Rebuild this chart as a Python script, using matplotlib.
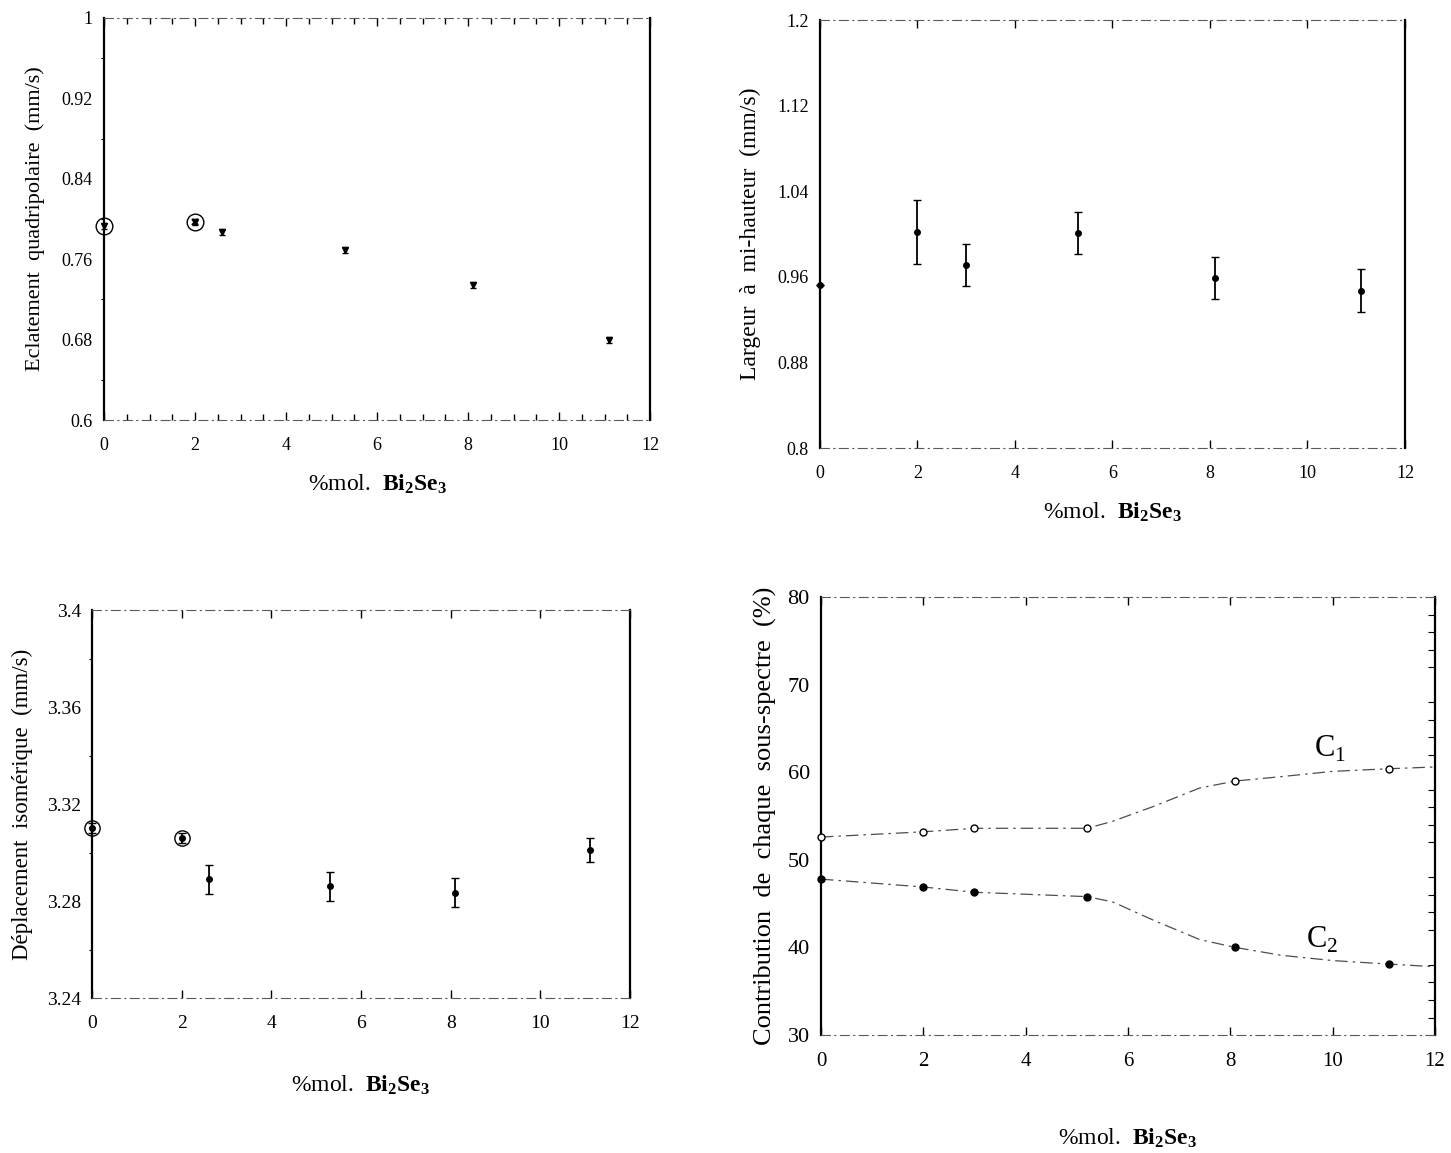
import matplotlib
matplotlib.use("Agg")
import matplotlib.pyplot as plt
from matplotlib.ticker import MultipleLocator, FixedLocator

plt.rcParams["font.family"] = ["Liberation Serif", "DejaVu Serif"]
plt.rcParams["mathtext.fontset"] = "custom"
plt.rcParams["mathtext.rm"] = "Liberation Serif"
plt.rcParams["mathtext.bf"] = "Liberation Serif:bold"

# ---- data ----
# quadrupole splitting (mm/s)
qs_x = [0, 2, 2.6, 5.3, 8.1, 11.1]
qs_y = [0.793, 0.797, 0.787, 0.769, 0.734, 0.680]
qs_err = [0.003, 0.003, 0.003, 0.003, 0.003, 0.003]
qs_circled = [0, 1]

# line width at half height (mm/s)
fw_x = [0, 2, 3, 5.3, 8.1, 11.1]
fw_y = [0.952, 1.002, 0.971, 1.001, 0.959, 0.947]
fw_err = [0.0, 0.030, 0.020, 0.020, 0.020, 0.020]

# isomer shift (mm/s)
is_x = [0, 2, 2.6, 5.3, 8.1, 11.1]
is_y = [3.310, 3.306, 3.289, 3.286, 3.2835, 3.301]
is_err = [0.002, 0.002, 0.006, 0.006, 0.006, 0.005]
is_circled = [0, 1]

# sub-spectrum contributions (%)
c_x = [0, 2, 3, 5.2, 8.1, 11.1]
c1_y = [52.6, 53.2, 53.6, 53.6, 59.0, 60.4]
c2_y = [47.8, 46.9, 46.3, 45.8, 40.0, 38.1]
# guide curves
curve_x = [0, 2, 3, 5.2, 5.7, 6.5, 7.4, 8.1, 9, 10, 11.1, 12]
c1_curve = [52.6, 53.2, 53.6, 53.6, 54.4, 56.1, 58.2, 59.0, 59.5, 60.1, 60.4, 60.6]
c2_curve = [47.8, 46.9, 46.3, 45.8, 45.2, 43.1, 40.9, 40.0, 39.1, 38.5, 38.1, 37.8]

XLABEL = r"%mol.  $\mathbf{Bi_2Se_3}$"

fig = plt.figure(figsize=(14.51, 11.53), dpi=100)


def style_axes(ax, xminor=None, tick_fs=13):
    ax.set_xlim(0, 12)
    ax.xaxis.set_major_locator(MultipleLocator(2))
    if xminor:
        ax.xaxis.set_minor_locator(MultipleLocator(xminor))
    for side in ("left", "right"):
        ax.spines[side].set_linewidth(1.6)
        ax.spines[side].set_color("black")
    for side in ("top", "bottom"):
        ax.spines[side].set_linewidth(0.8)
        ax.spines[side].set_color("0.35")
        ax.spines[side].set_linestyle((0, (8, 4, 1, 4)))
    ax.tick_params(axis="x", which="major", direction="in", top=True, bottom=True,
                   length=6, width=1.0, labelsize=tick_fs, pad=12)
    ax.tick_params(axis="x", which="minor", direction="in", top=True, bottom=True,
                   length=4, width=1.0)
    ax.tick_params(axis="y", which="major", length=0, labelsize=tick_fs, pad=8)
    ax.tick_params(axis="y", which="minor", direction="out", length=2, width=0.8)


# ---- top left ----
ax1 = fig.add_axes([0.0717, 0.6357, 0.3763, 0.3487])
style_axes(ax1, xminor=0.5)
ax1.set_ylim(0.6, 1.0)
ax1.yaxis.set_major_locator(FixedLocator([0.6, 0.68, 0.76, 0.84, 0.92, 1.0]))
ax1.set_yticklabels(["0.6", "0.68", "0.76", "0.84", "0.92", "1"])
ax1.yaxis.set_minor_locator(MultipleLocator(0.04))
ax1.errorbar(qs_x, qs_y, yerr=qs_err, fmt="v", color="black", ms=5,
             capsize=2.5, elinewidth=1.2, clip_on=False, zorder=4)
for i in qs_circled:
    ax1.plot(qs_x[i], qs_y[i], "o", mfc="none", mec="black", ms=12, mew=1.0,
             clip_on=False, zorder=5)
ax1.plot(qs_x[1], qs_y[1], "x", color="black", ms=5, mew=1.5, zorder=6)
ax1.set_ylabel("Eclatement  quadripolaire  (mm/s)", fontsize=16, labelpad=12)
ax1.set_xlabel(XLABEL, fontsize=17, labelpad=14)

# ---- top right ----
ax2 = fig.add_axes([0.5651, 0.6114, 0.4032, 0.3712])
style_axes(ax2)
ax2.set_ylim(0.8, 1.2)
ax2.yaxis.set_major_locator(FixedLocator([0.8, 0.88, 0.96, 1.04, 1.12, 1.2]))
ax2.set_yticklabels(["0.8", "0.88", "0.96", "1.04", "1.12", "1.2"])
ax2.errorbar(fw_x, fw_y, yerr=fw_err, fmt="o", color="black", ms=4,
             capsize=3, elinewidth=1.3, clip_on=False, zorder=4)
ax2.set_ylabel("Largeur  à  mi-hauteur  (mm/s)", fontsize=17, labelpad=12)
ax2.set_xlabel(XLABEL, fontsize=17, labelpad=14)

# ---- bottom left ----
ax3 = fig.add_axes([0.0634, 0.1344, 0.3708, 0.3365])
style_axes(ax3, tick_fs=14)
ax3.set_ylim(3.24, 3.40)
ax3.yaxis.set_major_locator(FixedLocator([3.24, 3.28, 3.32, 3.36, 3.40]))
ax3.set_yticklabels(["3.24", "3.28", "3.32", "3.36", "3.4"])
ax3.yaxis.set_minor_locator(MultipleLocator(0.02))
ax3.errorbar(is_x, is_y, yerr=is_err, fmt="o", color="black", ms=4,
             capsize=3, elinewidth=1.3, clip_on=False, zorder=4)
for i in is_circled:
    ax3.plot(is_x[i], is_y[i], "o", mfc="none", mec="black", ms=11, mew=1.0,
             clip_on=False, zorder=5)
ax3.set_ylabel("Déplacement  isomérique  (mm/s)", fontsize=16.5, labelpad=10)
ax3.set_xlabel(XLABEL, fontsize=17, labelpad=30)

# ---- bottom right ----
ax4 = fig.add_axes([0.5658, 0.1023, 0.4232, 0.3799])
style_axes(ax4, tick_fs=16)
ax4.tick_params(axis="x", labelsize=15)
ax4.set_ylim(30, 80)
ax4.yaxis.set_major_locator(MultipleLocator(10))
ax4.yaxis.set_minor_locator(MultipleLocator(2))
ax4.tick_params(axis="y", which="minor", left=False, right=True, direction="in",
                length=5, width=0.8)
ls_curve = (0, (10, 4, 2, 4))
ax4.plot(curve_x, c1_curve, color="0.3", lw=0.9, ls=ls_curve, zorder=2)
ax4.plot(curve_x, c2_curve, color="0.3", lw=0.9, ls=ls_curve, zorder=2)
ax4.plot(c_x, c1_y, "o", mfc="white", mec="black", ms=5, mew=1.0,
         clip_on=False, zorder=4)
ax4.plot(c_x, c2_y, "o", color="black", ms=5, clip_on=False, zorder=4)
ax4.text(9.95, 60.9, r"C$_1$", fontsize=22, ha="center", va="bottom")
ax4.text(9.8, 39.1, r"C$_2$", fontsize=22, ha="center", va="bottom")
ax4.set_ylabel("Contribution  de  chaque  sous-spectre  (%)", fontsize=19, labelpad=8)
ax4.set_xlabel(XLABEL, fontsize=17, labelpad=40)

fig.savefig("out.png", dpi=100)
